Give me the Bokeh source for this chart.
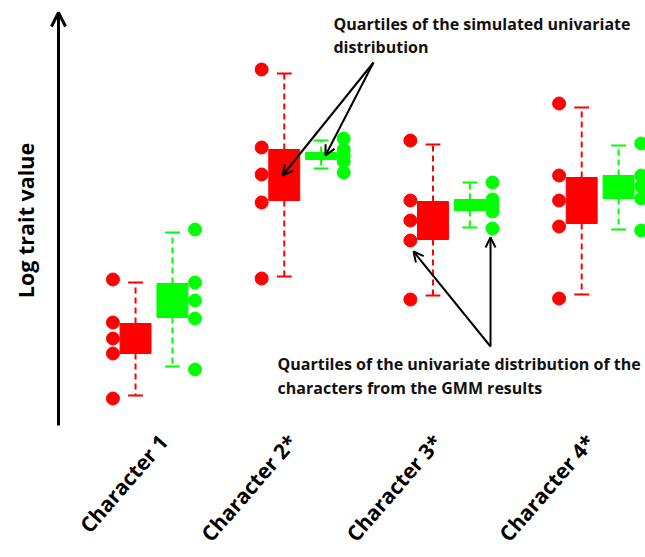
import math
from bokeh.plotting import figure
from bokeh.models import Range1d, Arrow, OpenHead, Label
from bokeh.core.properties import value
from bokeh.embed import file_html
from bokeh.resources import INLINE

# ---------------- data ----------------
categories = ["Character 1", "Character 2*", "Character 3*", "Character 4*"]
cat_pos = [1, 2, 3, 4]

# GMM-result univariate distribution (red box plots)
red_lo = [0.875, 3.85, 3.375, 3.4]
red_q1 = [1.925, 5.75, 4.775, 5.175]
red_q3 = [2.675, 7.025, 5.725, 6.325]
red_hi = [3.7, 8.925, 7.15, 8.075]

# simulated univariate distribution (green box plots)
green_lo = [1.6, 6.55, 5.075, 5.025]
green_q1 = [2.825, 6.775, 5.5, 5.8]
green_q3 = [3.675, 6.95, 5.775, 6.375]
green_hi = [4.95, 7.25, 6.2, 7.125]

# quartile dots (max, Q3, median, Q1, min)
red_dots = [
    [3.775, 2.7, 2.3, 1.925, 0.8],
    [9.025, 7.075, 6.4, 5.7, 3.8],
    [7.25, 5.75, 5.25, 4.75, 3.275],
    [8.175, 6.375, 5.75, 5.1, 3.3],
]
green_dots = [
    [5.025, 3.7, 3.25, 2.8, 1.525],
    [7.3, 7.025, 6.875, 6.725, 6.45],
    [6.2, 5.775, 5.625, 5.475, 5.05],
    [7.175, 6.375, 6.1, 5.8, 5.0],
]

top_note = ["Quartiles of the simulated univariate", "distribution"]
bottom_note = ["Quartiles of the univariate distribution of the",
               "characters from the GMM results"]
y_title = "Log trait value"

# ---------------- layout ----------------
RED = "#ff0000"
GREEN = "#00ff00"
FONT = "Open Sans"
box_off = 0.124
box_half = 0.104
dot_off = 0.276
cap_half = 0.05

p = figure(width=645, height=557, output_backend="svg", toolbar_location=None,
           x_range=Range1d(-0.032, 4.305), y_range=Range1d(-3.175, 10.75),
           x_axis_location=None, y_axis_location=None, min_border=0,
           outline_line_color=None)
p.grid.visible = False
p.background_fill_color = "white"
p.border_fill_color = "white"


def draw_box(offset, lo, q1, q3, hi, dots, doff, color):
    xs = [c + offset for c in cat_pos]
    p.quad(left=[x - box_half for x in xs], right=[x + box_half for x in xs],
           bottom=q1, top=q3, fill_color=color, line_color=color)
    # whiskers
    p.segment(x0=xs, x1=xs, y0=q3, y1=hi, line_color=color, line_width=2,
              line_dash="6 4")
    p.segment(x0=xs, x1=xs, y0=q1, y1=lo, line_color=color, line_width=2,
              line_dash="6 4")
    # caps
    p.segment(x0=[x - cap_half for x in xs], x1=[x + cap_half for x in xs],
              y0=hi, y1=hi, line_color=color, line_width=2)
    p.segment(x0=[x - cap_half for x in xs], x1=[x + cap_half for x in xs],
              y0=lo, y1=lo, line_color=color, line_width=2)
    dx, dy = [], []
    for c, vals in zip(cat_pos, dots):
        for v in vals:
            dx.append(c + doff)
            dy.append(v)
    p.scatter(x=dx, y=dy, size=13, fill_color=color, line_color=color)


draw_box(-box_off, red_lo, red_q1, red_q3, red_hi, red_dots, -dot_off, RED)
draw_box(box_off, green_lo, green_q1, green_q3, green_hi, green_dots, dot_off, GREEN)

# y-axis arrow
p.add_layout(Arrow(x_start=0.358, y_start=0.125, x_end=0.358, y_end=10.45,
                   line_width=3, line_color="black",
                   end=OpenHead(size=14, line_width=3, line_color="black")))
p.add_layout(Label(x=0.136, y=5.25, text=y_title, angle=math.pi / 2,
                   text_align="center", text_baseline="middle",
                   text_font=FONT, text_font_style="bold",
                   text_font_size="21.5px", text_color="black"))

# category labels
label_dx = [0.064, -0.069, -0.093, -0.065]
p.text(x=[c + d for c, d in zip(cat_pos, label_dx)], y=[-0.18] * 4,
       text=categories, angle=math.radians(49), text_align="right",
       text_baseline="middle", text_font=value(FONT), text_font_style="bold",
       text_font_size="21px", text_color="black")

# annotations
p.text(x=[2.207, 2.207], y=[10.175, 9.6], text=top_note, text_align="left",
       text_baseline="middle", text_font=value(FONT), text_font_style="bold",
       text_font_size="16px", text_color="#111111")
p.text(x=[1.831, 1.831], y=[1.675, 1.075], text=bottom_note, text_align="left",
       text_baseline="middle", text_font=value(FONT), text_font_style="bold",
       text_font_size="16px", text_color="#111111")

arrows = [
    (2.476, 9.2, 1.864, 6.375),
    (2.476, 9.2, 2.153, 6.875),
    (3.263, 2.1, 2.745, 4.475),
    (3.263, 2.1, 3.263, 4.825),
]
for xs_, ys_, xe_, ye_ in arrows:
    p.add_layout(Arrow(x_start=xs_, y_start=ys_, x_end=xe_, y_end=ye_,
                       line_width=2, line_color="black",
                       end=OpenHead(size=10, line_width=2, line_color="black")))

open("out.html", "w").write(file_html(p, INLINE))
